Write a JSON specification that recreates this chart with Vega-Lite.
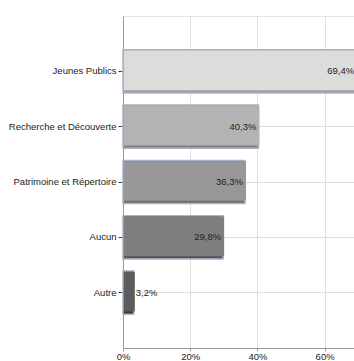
{
  "$schema": "https://vega.github.io/schema/vega-lite/v6.json",
  "autosize": {"type": "none"},
  "padding": {"left": 123, "top": 16, "right": 0, "bottom": 13},
  "width": 336,
  "height": 332,
  "config": {
    "locale": {"number": {"decimal": ",", "thousands": " ", "grouping": [3], "currency": ["", " €"]}},
    "view": {"stroke": "#e4e4e4"},
    "font": "Liberation Sans",
    "axis": {"labelFont": "Liberation Sans", "labelFontSize": 9.5, "labelColor": "#222222", "gridColor": "#dedede", "title": null}
  },
  "data": {
    "values": [
      {"categorie": "Jeunes Publics", "part": 0.694},
      {"categorie": "Recherche et Découverte", "part": 0.403},
      {"categorie": "Patrimoine et Répertoire", "part": 0.363},
      {"categorie": "Aucun", "part": 0.298},
      {"categorie": "Autre", "part": 0.032}
    ]
  },
  "encoding": {
    "y": {
      "field": "categorie", "type": "nominal", "sort": null,
      "scale": {"paddingInner": 0.22, "paddingOuter": 0.61},
      "axis": {"grid": true, "domainColor": "#999999", "tickColor": "#444444", "tickSize": 5, "labelPadding": 2, "bandPosition": 0.5}
    },
    "x": {
      "field": "part", "type": "quantitative",
      "scale": {"domain": [0, 1], "nice": false},
      "axis": {"format": ".0%", "values": [0, 0.2, 0.4, 0.6], "grid": true, "labelFlush": false, "domainColor": "#999999", "tickColor": "#999999", "tickSize": 3, "labelPadding": 0, "labelBaseline": "top"}
    }
  },
  "layer": [
    {
      "mark": {"type": "bar", "stroke": "#a8b5c8", "strokeWidth": 1.5},
      "encoding": {
        "color": {
          "field": "categorie", "type": "nominal", "sort": null, "legend": null,
          "scale": {"range": ["#9c9c9c", "#808080", "#6c6c6c", "#555555", "#383838"]}
        }
      }
    },
    {
      "mark": {"type": "bar", "height": {"band": 0.92}, "yOffset": -1, "xOffset": 1, "x2Offset": -3},
      "encoding": {
        "fill": {
          "field": "categorie", "type": "nominal", "sort": null, "legend": null,
          "scale": {"range": ["#dcdcdc", "#b3b3b3", "#989898", "#7e7e7e", "#5c5c5c"]}
        }
      }
    },
    {
      "transform": [{"filter": "datum.part >= 0.1"}],
      "mark": {"type": "text", "align": "right", "dx": -2, "fontSize": 9.5, "color": "#222222"},
      "encoding": {"text": {"field": "part", "type": "quantitative", "format": ".1%"}}
    },
    {
      "transform": [{"filter": "datum.part < 0.1"}],
      "mark": {"type": "text", "align": "left", "dx": 2, "fontSize": 9.5, "color": "#222222"},
      "encoding": {"text": {"field": "part", "type": "quantitative", "format": ".1%"}}
    }
  ],
  "resolve": {"scale": {"color": "independent", "fill": "independent"}}
}
